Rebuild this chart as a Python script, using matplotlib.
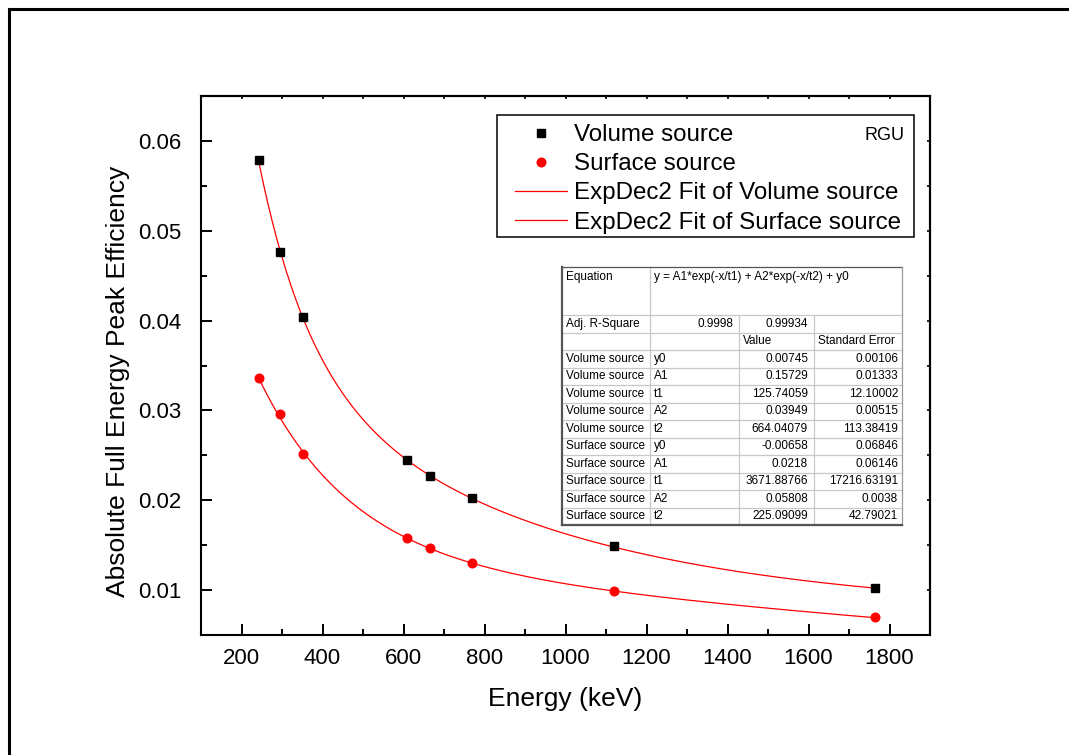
import numpy as np
import matplotlib
matplotlib.use("Agg")
import matplotlib.pyplot as plt
from matplotlib.lines import Line2D
from matplotlib.patches import Rectangle

plt.rcParams["font.family"] = ["Liberation Sans", "DejaVu Sans"]

energy = [242, 295, 352, 609, 665, 768, 1120, 1764]
eff_volume = [0.0579, 0.0476, 0.0404, 0.0245, 0.0227, 0.0202, 0.0149, 0.0102]
eff_surface = [0.0336, 0.0296, 0.0252, 0.0158, 0.0147, 0.0130, 0.0099, 0.0070]

# ExpDec2 fit parameters as printed in the table: y0, A1, t1, A2, t2
fit_volume = [0.00745, 0.15729, 125.74059, 0.03949, 664.04079]
fit_surface = [-0.00658, 0.0218, 3671.88766, 0.05808, 225.09099]

# table contents
adj_r2 = ["0.9998", "0.99934"]
tab_source = ["Volume source"] * 5 + ["Surface source"] * 5
tab_param = ["y0", "A1", "t1", "A2", "t2"] * 2
tab_value = ["0.00745", "0.15729", "125.74059", "0.03949", "664.04079",
             "-0.00658", "0.0218", "3671.88766", "0.05808", "225.09099"]
tab_error = ["0.00106", "0.01333", "12.10002", "0.00515", "113.38419",
             "0.06846", "0.06146", "17216.63191", "0.0038", "42.79021"]


def expdec2(x, p):
    y0, a1, t1, a2, t2 = p
    return a1 * np.exp(-x / t1) + a2 * np.exp(-x / t2) + y0


W, H = 1069, 755
fig = plt.figure(figsize=(W / 100, H / 100), dpi=100)
ax = fig.add_axes([201 / W, 1 - 635 / H, 729 / W, 539 / H])

xf = np.linspace(min(energy), max(energy), 400)
ax.plot(xf, expdec2(xf, fit_volume), color="red", lw=0.9, zorder=2)
ax.plot(xf, expdec2(xf, fit_surface), color="red", lw=0.9, zorder=2)
ax.plot(energy, eff_volume, "s", color="black", ms=5.6, zorder=3)
ax.plot(energy, eff_surface, "o", color="red", ms=6.2, zorder=3)

xmaj = np.arange(200, 1801, 200)
xmin = np.arange(100, 1901, 100)
ymaj = [0.01, 0.02, 0.03, 0.04, 0.05, 0.06]
ymin = np.arange(0.005, 0.0651, 0.005)

ax.set_xlim(100, 1900)
ax.set_ylim(0.005, 0.065)
ax.set_xticks(xmaj)
ax.set_xticks(xmin, minor=True)
ax.set_yticks(ymaj)
ax.set_yticks(ymin, minor=True)
ax.set_yticklabels(["0.01", "0.02", "0.03", "0.04", "0.05", "0.06"])
ax.tick_params(which="both", direction="in", width=1.4, labelsize=16)
ax.tick_params(which="major", length=8)
ax.tick_params(which="minor", length=4.3)
ax.tick_params(axis="y", pad=14)
ax.tick_params(axis="x", pad=9)
for s in ax.spines.values():
    s.set_linewidth(1.5)
ax.set_xlabel("Energy (keV)", fontsize=19, labelpad=13)
ax.set_ylabel("Absolute Full Energy Peak Efficiency", fontsize=19)
ax.yaxis.set_label_coords(-0.097, 0.47)

# tiny ticks on the top and right axes
top_ax = ax.secondary_xaxis("top")
top_ax.set_xticks(xmaj)
top_ax.set_xticks(xmin, minor=True)
top_ax.tick_params(which="both", direction="in", length=2, width=1.2,
                   labeltop=False)
top_ax.spines["top"].set_linewidth(1.5)
right_ax = ax.secondary_yaxis("right")
right_ax.set_yticks(ymaj)
right_ax.set_yticks(ymin, minor=True)
right_ax.tick_params(which="both", direction="in", length=2, width=1.2,
                     labelright=False)
right_ax.spines["right"].set_linewidth(1.5)

# overlay in pixel coordinates for frame, legend box and table
ov = fig.add_axes([0, 0, 1, 1], zorder=5)
ov.set_xlim(0, W)
ov.set_ylim(H, 0)
ov.axis("off")
ov.patch.set_alpha(0)

ov.add_line(Line2D([9, W + 10], [9, 9], color="black", lw=2.2))
ov.add_line(Line2D([9, 9], [9, H + 10], color="black", lw=2.2))

# legend
ov.add_patch(Rectangle((497, 115), 417, 122, fill=False, ec="black", lw=1.1))
handles = [
    Line2D([], [], ls="none", marker="s", color="black", ms=5.6),
    Line2D([], [], ls="none", marker="o", color="red", ms=6.2),
    Line2D([], [], color="red", lw=0.9),
    Line2D([], [], color="red", lw=0.9),
]
labels = ["Volume source", "Surface source",
          "ExpDec2 Fit of Volume source", "ExpDec2 Fit of Surface source"]
ov.legend(handles, labels, loc="upper left", bbox_to_anchor=(515 / W, 1 - 124 / H),
          bbox_transform=fig.transFigure, frameon=False, fontsize=17.4,
          handlelength=2.15, handletextpad=0.3, labelspacing=0.3,
          borderpad=0, borderaxespad=0)
ov.text(905, 135, "RGU", fontsize=13, ha="right", va="center")

# fit results table
cx = [562, 650, 739, 814, 902]
top, eq_bot, rh = 267, 315, 17.5
n_rows = 12
bot = eq_bot + n_rows * rh
ov.add_patch(Rectangle((cx[0], top), cx[-1] - cx[0], bot - top, fc="white",
                       ec="none", zorder=1))
grid = dict(color="#c8c8c8", lw=0.9, zorder=2)
for i in range(n_rows + 1):
    y = eq_bot + i * rh
    ov.add_line(Line2D([cx[0], cx[-1]], [y, y], **grid))
ov.add_line(Line2D([cx[1], cx[1]], [top, bot], **grid))
for x in cx[2:4]:
    ov.add_line(Line2D([x, x], [eq_bot, bot], **grid))
edge = dict(color="#555555", zorder=3)
ov.add_line(Line2D([cx[0], cx[-1]], [top, top], lw=0.9, **edge))
ov.add_line(Line2D([cx[-1], cx[-1]], [top, bot], lw=0.9, color="#9a9a9a", zorder=3))
ov.add_line(Line2D([cx[0], cx[0]], [top, bot], lw=1.6, **edge))
ov.add_line(Line2D([cx[0], cx[-1]], [bot, bot], lw=1.6, **edge))

fs = 8.5
pad = 4
ov.text(cx[0] + pad, top + 10, "Equation", fontsize=fs, va="center")
ov.text(cx[1] + pad, top + 10, "y = A1*exp(-x/t1) + A2*exp(-x/t2) + y0",
        fontsize=fs, va="center")
yc = eq_bot + rh / 2
ov.text(cx[0] + pad, yc, "Adj. R-Square", fontsize=fs, va="center")
ov.text(cx[2] - 6, yc, adj_r2[0], fontsize=fs, va="center", ha="right")
ov.text(cx[3] - 6, yc, adj_r2[1], fontsize=fs, va="center", ha="right")
yc += rh
ov.text(cx[2] + pad, yc, "Value", fontsize=fs, va="center")
ov.text(cx[3] + pad, yc, "Standard Error", fontsize=fs, va="center")
for src, par, val, err in zip(tab_source, tab_param, tab_value, tab_error):
    yc += rh
    ov.text(cx[0] + pad, yc, src, fontsize=fs, va="center")
    ov.text(cx[1] + pad, yc, par, fontsize=fs, va="center")
    ov.text(cx[3] - 6, yc, val, fontsize=fs, va="center", ha="right")
    ov.text(cx[4] - 4, yc, err, fontsize=fs, va="center", ha="right")

fig.savefig("out.png", dpi=100)
